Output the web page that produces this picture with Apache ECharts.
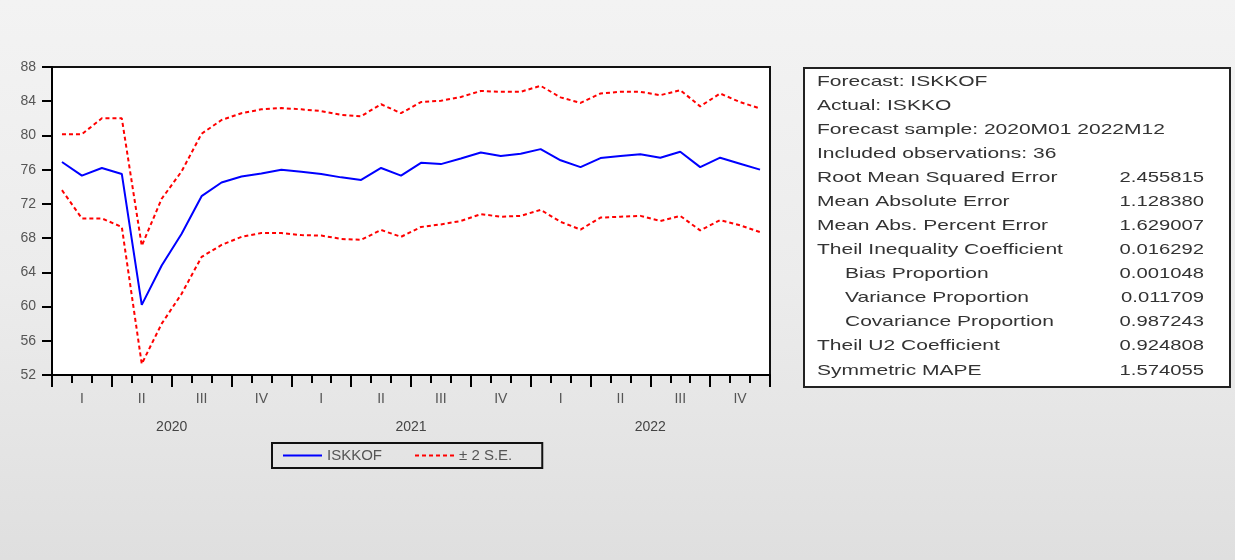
<!DOCTYPE html>
<html>
<head>
<meta charset="utf-8">
<script src="https://cdn.jsdelivr.net/npm/echarts@6/dist/echarts.min.js"></script>
<style>
html,body{margin:0;padding:0;}
#chart{width:1235px;height:560px;}
</style>
</head>
<body>
<div id="chart"></div>
<script>
// ---- data ----
const months = ["2020M01","2020M02","2020M03","2020M04","2020M05","2020M06","2020M07","2020M08","2020M09","2020M10","2020M11","2020M12",
                "2021M01","2021M02","2021M03","2021M04","2021M05","2021M06","2021M07","2021M08","2021M09","2021M10","2021M11","2021M12",
                "2022M01","2022M02","2022M03","2022M04","2022M05","2022M06","2022M07","2022M08","2022M09","2022M10","2022M11","2022M12"];
const quarters = ["I","II","III","IV","I","II","III","IV","I","II","III","IV"];
const years = ["2020","2021","2022"];
const forecast = [76.9,75.3,76.2,75.5,60.2,64.8,68.5,72.9,74.5,75.2,75.55,76.0,
                  75.75,75.5,75.1,74.8,76.2,75.3,76.8,76.65,77.3,78.0,77.6,77.85,
                  78.4,77.1,76.3,77.35,77.6,77.8,77.4,78.1,76.3,77.4,76.7,76.0];
const upperSE = [80.15,80.15,82.0,82.0,67.1,72.6,75.8,80.2,81.8,82.6,83.05,83.2,
                 83.05,82.85,82.4,82.25,83.65,82.6,83.9,84.05,84.5,85.2,85.1,85.1,
                 85.8,84.45,83.8,84.9,85.1,85.1,84.7,85.3,83.4,84.9,83.9,83.15];
const lowerSE = [73.6,70.3,70.3,69.3,53.3,58.0,61.5,65.8,67.2,68.15,68.6,68.6,
                 68.35,68.3,67.9,67.8,68.95,68.15,69.3,69.6,70.0,70.8,70.5,70.6,
                 71.3,69.9,69.0,70.4,70.5,70.6,70.0,70.6,68.9,70.1,69.5,68.7];
const statLabels = ["Forecast: ISKKOF","Actual: ISKKO","Forecast sample: 2020M01 2022M12","Included observations: 36",
                    "Root Mean Squared Error","Mean Absolute Error","Mean Abs. Percent Error","Theil Inequality Coefficient",
                    "Bias Proportion","Variance Proportion","Covariance Proportion","Theil U2 Coefficient","Symmetric MAPE"];
const statValues = ["","","","","2.455815","1.128380","1.629007","0.016292","0.001048","0.011709","0.987243","0.924808","1.574055"];
const statIndent = [0,0,0,0,0,0,0,0,1,1,1,0,0];

// ---- chart ----
const chart = echarts.init(document.getElementById('chart'), null, {renderer:'canvas'});
const FONT = '"Liberation Sans", Arial, sans-serif';
const labelColor = '#555';

const tableChildren = [{
  type:'rect', shape:{x:804, y:68, width:426, height:319},
  style:{fill:'#fff', stroke:'#222', lineWidth:2}
}];
statLabels.forEach((t,i)=>{
  const y = 82 + i*24.03;
  tableChildren.push({type:'text', x: statIndent[i] ? 845 : 817, y: y, scaleX:1.4,
    style:{text:t, fontSize:15, fontFamily:FONT, fill:'#333', verticalAlign:'middle', align:'left'}});
  if (statValues[i]) {
    tableChildren.push({type:'text', x:1204, y:y, scaleX:1.35,
      style:{text:statValues[i], fontSize:15, fontFamily:FONT, fill:'#333', verticalAlign:'middle', align:'right'}});
  }
});

const hiddenSym = {color:'transparent', borderColor:'transparent', borderWidth:0};

const option = {
  animation:false,
  backgroundColor:{type:'linear', x:0, y:0, x2:0, y2:1,
    colorStops:[{offset:0,color:'#f3f3f3'},{offset:0.5,color:'#ececec'},{offset:1,color:'#dfdfdf'}]},
  textStyle:{fontFamily:FONT},
  grid:{left:52, top:67, width:718, height:308, show:true, backgroundColor:'#fff', borderColor:'#111', borderWidth:2, containLabel:false},
  legend:{
    left:272, top:443, padding:[5,30,5,10], itemGap:32, itemWidth:39, itemHeight:14,
    borderColor:'#111', borderWidth:2, borderRadius:0,
    itemStyle:hiddenSym,
    data:[
      {name:'ISKKOF', itemStyle:hiddenSym},
      {name:'± 2 S.E.', itemStyle:hiddenSym}
    ],
    textStyle:{fontFamily:FONT, fontSize:15, color:labelColor}
  },
  xAxis:[
    {type:'category', data:months, boundaryGap:true, position:'bottom',
     axisLine:{onZero:false, lineStyle:{color:'#000', width:2}},
     axisTick:{show:true, interval:0, length:8, lineStyle:{color:'#000', width:2}},
     axisLabel:{show:false}, splitLine:{show:false}},
    {type:'category', data:quarters, boundaryGap:true, position:'bottom',
     axisLine:{show:false, onZero:false},
     axisTick:{show:true, interval:0, length:12, lineStyle:{color:'#000', width:2}},
     axisLabel:{interval:0, margin:17, fontSize:14, color:labelColor, fontFamily:FONT}, splitLine:{show:false}},
    {type:'category', data:years, boundaryGap:true, position:'bottom',
     axisLine:{show:false, onZero:false}, axisTick:{show:false},
     axisLabel:{interval:0, margin:45, fontSize:14, color:'#444', fontFamily:FONT}, splitLine:{show:false}}
  ],
  yAxis:{type:'value', min:52, max:88, interval:4,
    axisLine:{show:true, lineStyle:{color:'#000', width:2}},
    axisTick:{show:true, length:10, lineStyle:{color:'#000', width:2}},
    axisLabel:{margin:16, fontSize:14, color:labelColor, fontFamily:FONT},
    splitLine:{show:false}},
  series:[
    {name:'ISKKOF', type:'line', data:forecast, xAxisIndex:0, symbol:'none',
     lineStyle:{color:'#0000ff', width:2}, itemStyle:{color:'#0000ff'}},
    {name:'± 2 S.E.', type:'line', data:upperSE, xAxisIndex:0, symbol:'none',
     lineStyle:{color:'#ff0000', width:2, type:[4,3]}, itemStyle:{color:'#ff0000'}},
    {name:'± 2 S.E.', type:'line', data:lowerSE, xAxisIndex:0, symbol:'none',
     lineStyle:{color:'#ff0000', width:2, type:[4,3]}, itemStyle:{color:'#ff0000'}}
  ],
  graphic:[{type:'group', children:tableChildren}]
};
chart.setOption(option);
</script>
</body>
</html>
